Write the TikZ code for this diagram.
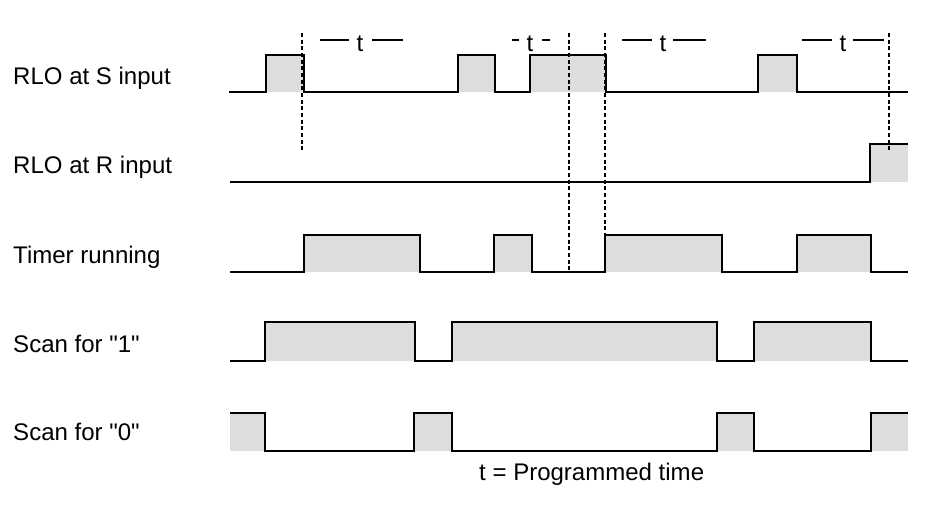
\documentclass[tikz,border=0pt]{standalone}
\usepackage{fontspec}
\setmainfont{Liberation Sans}
\usepackage{tikz}
\usepackage{xcolor}
\definecolor{cFill}{RGB}{221,221,221}
\tikzset{
	lbl/.style    ={anchor=base west, inner sep=0pt},
	sig/.style    ={line width=1.3pt, line join=miter},
	pulse/.style  ={fill=cFill},
	guide/.style  ={line width=1.1pt, dash pattern=on 1.2mm off 0.8mm},
	tbar/.style   ={line width=1.1pt},
	tmark/.style  ={anchor=base, inner sep=0pt},
}

\begin{document}
\begin{tikzpicture}[x=0.3mm, y=-0.3mm, font=\fontsize{20.5}{24}\selectfont]
	\useasboundingbox (0,0) rectangle (931,511);
	% signal names
	\node[lbl] (sIn)   at (13,84)  {RLO at S input};
	\node[lbl] (rIn)   at (13,173) {RLO at R input};
	\node[lbl] (run)   at (13,263) {Timer running};
	\node[lbl] (scan1) at (13,352) {Scan for \textquotedbl 1\textquotedbl};
	\node[lbl] (scan0) at (13,440) {Scan for \textquotedbl 0\textquotedbl};
	% shaded high levels
	\fill[pulse] (266,55) rectangle (304,92);
	\fill[pulse] (458,55) rectangle (495,92);
	\fill[pulse] (530,55) rectangle (606,92);
	\fill[pulse] (758,55) rectangle (797,92);
	\fill[pulse] (870,144) rectangle (908,182);
	\fill[pulse] (304,235) rectangle (420,272);
	\fill[pulse] (494,235) rectangle (532,272);
	\fill[pulse] (605,235) rectangle (722,272);
	\fill[pulse] (797,235) rectangle (871,272);
	\fill[pulse] (265,322) rectangle (415,361);
	\fill[pulse] (452,322) rectangle (717,361);
	\fill[pulse] (754,322) rectangle (871,361);
	\fill[pulse] (230,413) rectangle (265,451);
	\fill[pulse] (414,413) rectangle (452,451);
	\fill[pulse] (717,413) rectangle (754,451);
	\fill[pulse] (871,413) rectangle (908,451);
	% waveforms
	\draw[sig] (229,92) -| (266,55) -| (304,92) -| (458,55) -| (495,92) -| (530,55) -| (606,92) -| (758,55) -| (797,92) -- (908,92);
	\draw[sig] (230,182) -| (870,144) -- (908,144);
	\draw[sig] (230,272) -| (304,235) -| (420,272) -| (494,235) -| (532,272) -| (605,235) -| (722,272) -| (797,235) -| (871,272) -- (908,272);
	\draw[sig] (230,361) -| (265,322) -| (415,361) -| (452,322) -| (717,361) -| (754,322) -| (871,361) -- (908,361);
	\draw[sig] (230,413) -| (265,451) -| (414,413) -| (452,451) -| (717,413) -| (754,451) -| (871,413) -- (908,413);
	% time marks
	\draw[guide] (302,33) -- (302,152);
	\draw[guide] (569,33) -- (569,272);
	\draw[guide] (605,33) -- (605,272);
	\draw[guide] (889,33) -- (889,150);
	\node[tmark] (t1) at (360,51) {t};
	\node[tmark] (t2) at (530,51) {t};
	\node[tmark] (t3) at (663,51) {t};
	\node[tmark] (t4) at (843,51) {t};
	\draw[tbar] (320,40) -- (349,40) (372,40) -- (403,40);
	\draw[tbar] (512,40) -- (519,40) (542,40) -- (550,40);
	\draw[tbar] (622,40) -- (652,40) (673,40) -- (706,40);
	\draw[tbar] (802,40) -- (832,40) (853,40) -- (884,40);
	\node[lbl] (note) at (479,480) {t = Programmed time};
\end{tikzpicture}
\end{document}
